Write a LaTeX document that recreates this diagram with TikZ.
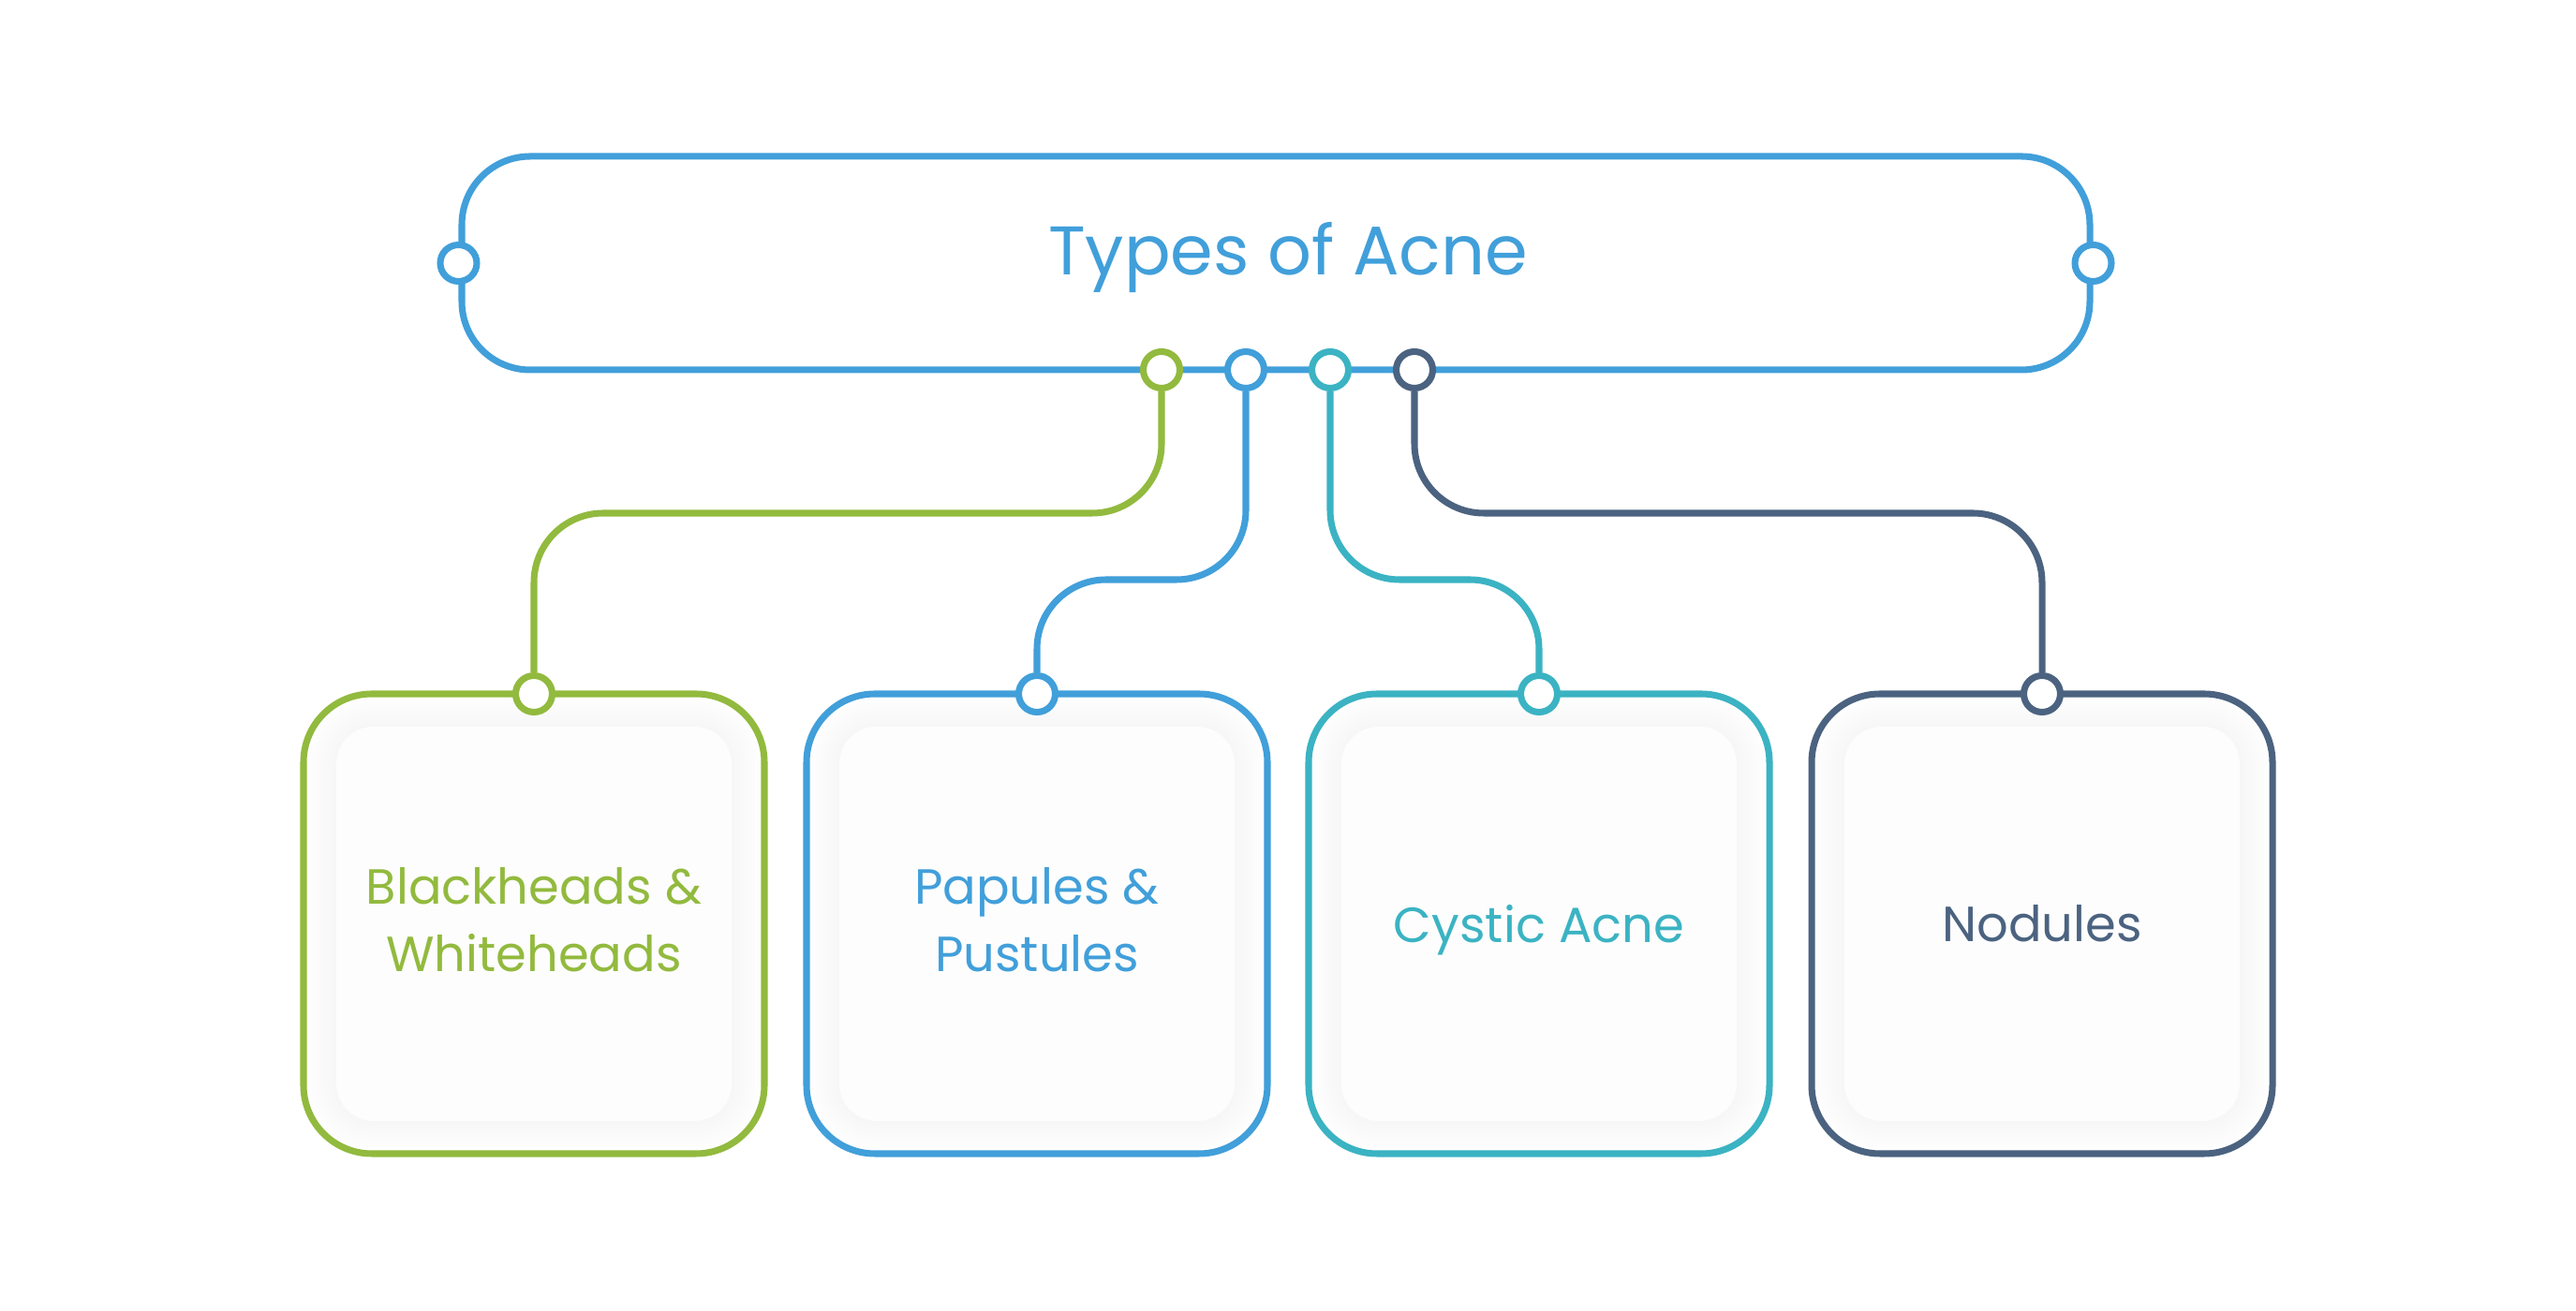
\documentclass[tikz,border=0pt]{standalone}
\usepackage{fontspec}
\setmainfont{Poppins}
\usetikzlibrary{positioning, calc}

\definecolor{leafgreen}{HTML}{92BA3E}
\definecolor{skyblue}{HTML}{419FDA}
\definecolor{tealblue}{HTML}{3BB3C3}
\definecolor{slate}{HTML}{4B6380}
\definecolor{paper}{HTML}{FDFDFD}

\begin{document}
\begin{tikzpicture}[
	port/.style = {circle, draw, fill = white, line width = 2pt, minimum size = 0.39cm, inner sep = 0pt},
	card/.style = {rectangle, draw, fill = white, line width = 2pt, rounded corners = 0.73cm, minimum width = 4.92cm, minimum height = 4.91cm, outer sep = 0pt},
	link/.style = {line width = 2pt, rounded corners = 0.74cm},
	caption/.style = {align = center, text depth = 0pt, font = \fontsize{15}{20.5}\selectfont}
]

	% Canvas

	\fill [white] (0, 0) rectangle (27.5, 14);
	\useasboundingbox (0, 0) rectangle (27.5, 14);

	% Heading

	\node [draw = skyblue, line width = 2pt, rounded corners = 0.73cm, minimum width = 17.38cm, minimum height = 2.28cm] (head) at (13.62, 11.19) {};
	\node [anchor = base, text = skyblue, font = \fontsize{20.9}{25}\selectfont] (title) at (13.75, 11.06) {Types of Acne};

	\node [port, draw = skyblue] (hl) at (head.west) {};
	\node [port, draw = skyblue] (hr) at (head.east) {};

	\foreach \c [count = \i] in {leafgreen, skyblue, tealblue, slate}
		\node [port, draw = \c] (hp\i) at ({11.5 + 0.9 * \i}, 10.05) {};

	% Cards

	\foreach \x / \c / \s / \t [count = \n] in {5.70/leafgreen/0.045/{Blackheads \&\\Whiteheads}, 11.07/skyblue/0.045/{Papules \&\\Pustules}, 16.43/tealblue/0/{Cystic Acne}, 21.80/slate/0/{Nodules}} {
		\node [card, draw = \c] (card\n) at (\x, 4.135) {};
		\foreach \k in {1, ..., 8} {
			\pgfmathsetmacro\g{0.042 * \k}
			\pgfmathsetmacro\r{0.4 + \g}
			\fill [black, opacity = 0.004, rounded corners = \r cm] ($(card\n) + (-2.11 - \g, -2.105 - \g)$) rectangle ($(card\n) + (2.11 + \g, 2.105 + \g)$);
		}
		\fill [paper, rounded corners = 0.4cm] ($(card\n) + (-2.11, -2.105)$) rectangle ($(card\n) + (2.11, 2.105)$);
		\node [caption, text = \c, yshift = \s cm] (label\n) at (card\n) {\t};
		\node [port, draw = \c] (cp\n) at (card\n.north) {};
	}

	% Links

	\coordinate (upper) at (0, 8.52);
	\coordinate (lower) at (0, 7.81);

	\draw [link, leafgreen] (hp1.south) -- (hp1 |- upper) -| (cp1.north);
	\draw [link, skyblue] (hp2.south) -- (hp2 |- lower) -| (cp2.north);
	\draw [link, tealblue] (hp3.south) -- (hp3 |- lower) -| (cp3.north);
	\draw [link, slate] (hp4.south) -- (hp4 |- upper) -| (cp4.north);

\end{tikzpicture}
\end{document}
